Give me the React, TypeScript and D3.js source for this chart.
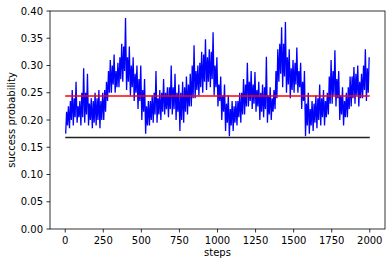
import React from "react";
import * as d3 from "d3";

// Blue series in 25-step buckets:
// extreme low / high of each bucket, and the typical lower / upper edge of the dense band
const BUCKET = 25;
const bucketLow = [
  0.175, 0.185, 0.19, 0.195, 0.19, 0.195, 0.19, 0.185, 0.19, 0.185,
  0.2, 0.235, 0.25, 0.25, 0.26, 0.27, 0.255, 0.245, 0.235, 0.22,
  0.2, 0.175, 0.19, 0.195, 0.195, 0.2, 0.21, 0.205, 0.21, 0.2,
  0.18, 0.195, 0.21, 0.225, 0.24, 0.245, 0.25, 0.255, 0.26, 0.245,
  0.225, 0.2, 0.18, 0.17, 0.18, 0.19, 0.195, 0.21, 0.225, 0.22,
  0.215, 0.2, 0.205, 0.195, 0.2, 0.22, 0.27, 0.26, 0.25, 0.24,
  0.25, 0.25, 0.22, 0.17, 0.175, 0.18, 0.185, 0.19, 0.19, 0.21,
  0.23, 0.225, 0.2, 0.19, 0.205, 0.225, 0.23, 0.225, 0.24, 0.235,
];
const bucketHigh = [
  0.225, 0.255, 0.27, 0.235, 0.295, 0.285, 0.24, 0.25, 0.255, 0.25,
  0.27, 0.31, 0.32, 0.305, 0.34, 0.387, 0.335, 0.315, 0.3, 0.3,
  0.275, 0.235, 0.245, 0.29, 0.255, 0.275, 0.26, 0.3, 0.285, 0.265,
  0.27, 0.28, 0.285, 0.337, 0.3, 0.325, 0.348, 0.33, 0.361, 0.315,
  0.28, 0.265, 0.245, 0.235, 0.235, 0.25, 0.275, 0.305, 0.29, 0.288,
  0.27, 0.265, 0.316, 0.26, 0.255, 0.33, 0.37, 0.38, 0.33, 0.31,
  0.333, 0.305, 0.29, 0.25, 0.235, 0.245, 0.265, 0.255, 0.25, 0.31,
  0.328, 0.29, 0.26, 0.25, 0.28, 0.297, 0.3, 0.285, 0.33, 0.315,
];
const bandLow = [
  0.19, 0.2, 0.205, 0.205, 0.205, 0.21, 0.2, 0.195, 0.2, 0.2,
  0.215, 0.25, 0.265, 0.26, 0.275, 0.29, 0.27, 0.26, 0.25, 0.235,
  0.215, 0.19, 0.2, 0.21, 0.21, 0.215, 0.22, 0.22, 0.22, 0.215,
  0.2, 0.215, 0.225, 0.24, 0.255, 0.26, 0.27, 0.27, 0.275, 0.26,
  0.235, 0.215, 0.195, 0.19, 0.195, 0.205, 0.21, 0.225, 0.235, 0.23,
  0.225, 0.215, 0.22, 0.21, 0.215, 0.24, 0.285, 0.28, 0.265, 0.255,
  0.265, 0.26, 0.235, 0.19, 0.19, 0.195, 0.2, 0.205, 0.205, 0.23,
  0.245, 0.24, 0.21, 0.205, 0.22, 0.24, 0.245, 0.24, 0.255, 0.25,
];
const bandHigh = [
  0.215, 0.235, 0.24, 0.225, 0.25, 0.25, 0.23, 0.235, 0.24, 0.235,
  0.255, 0.29, 0.3, 0.29, 0.315, 0.335, 0.315, 0.3, 0.285, 0.275,
  0.255, 0.225, 0.235, 0.25, 0.24, 0.25, 0.25, 0.26, 0.26, 0.25,
  0.25, 0.26, 0.265, 0.3, 0.29, 0.305, 0.32, 0.315, 0.325, 0.3,
  0.265, 0.245, 0.23, 0.22, 0.225, 0.235, 0.25, 0.265, 0.27, 0.265,
  0.255, 0.25, 0.26, 0.245, 0.24, 0.29, 0.34, 0.34, 0.315, 0.295,
  0.305, 0.29, 0.27, 0.23, 0.22, 0.23, 0.24, 0.24, 0.235, 0.28,
  0.29, 0.275, 0.245, 0.235, 0.26, 0.28, 0.285, 0.27, 0.3, 0.295,
];
const redLevel = 0.244;
const blackLevel = 0.168;
const lineSteps = [0, 2000];
const xTicks = [0, 250, 500, 750, 1000, 1250, 1500, 1750, 2000];
const yTicks = [0, 0.05, 0.1, 0.15, 0.2, 0.25, 0.3, 0.35, 0.4];

const W = 392, H = 266;
const L = 50, R = 385, T = 11, B = 229;

export default function App() {
  const x = d3.scaleLinear().domain([-100, 2100]).range([L, R]);
  const y = d3.scaleLinear().domain([0, 0.4]).range([B, T]);

  const pts: [number, number][] = [];
  bucketLow.forEach((lo, i) => {
    const s = i * BUCKET;
    pts.push([s + 3, lo]);
    pts.push([s + 9, bandHigh[i]]);
    pts.push([s + 15, bandLow[i]]);
    pts.push([s + 21, bucketHigh[i]]);
  });
  const line = d3.line<[number, number]>().x(d => x(d[0])).y(d => y(d[1]));
  const hline = (v: number) => d3.line<number>().x(s => x(s)).y(() => y(v))(lineSteps) || "";

  const font = "'DejaVu Sans', sans-serif";
  return (
    <svg width={W} height={H} style={{ position: "absolute", left: 0, top: 0 }} fontFamily={font}>
      <rect width={W} height={H} fill="#fff" />
      <path d={line(pts) || ""} fill="none" stroke="#0000ff" strokeWidth={1.3} />
      <path d={hline(redLevel)} stroke="#ff0000" strokeWidth={1.5} fill="none" />
      <path d={hline(blackLevel)} stroke="#222" strokeWidth={1.5} fill="none" />
      <rect x={L} y={T} width={R - L} height={B - T} fill="none" stroke="#000" strokeWidth={0.8} />
      {xTicks.map(t => (
        <g key={t}>
          <line x1={x(t)} x2={x(t)} y1={B} y2={B + 3.5} stroke="#000" strokeWidth={0.8} />
          <text x={x(t)} y={B + 15} fontSize={10} textAnchor="middle" fill="#000">{t}</text>
        </g>
      ))}
      {yTicks.map(t => (
        <g key={t}>
          <line x1={L - 3.5} x2={L} y1={y(t)} y2={y(t)} stroke="#000" strokeWidth={0.8} />
          <text x={L - 7} y={y(t)} dy="0.35em" fontSize={10} textAnchor="end" fill="#000">{t.toFixed(2)}</text>
        </g>
      ))}
      <text x={(L + R) / 2} y={256} fontSize={10} textAnchor="middle" fill="#000">steps</text>
      <text transform={`translate(15,${(T + B) / 2}) rotate(-90)`} fontSize={10} textAnchor="middle" fill="#000">success probability</text>
    </svg>
  );
}
